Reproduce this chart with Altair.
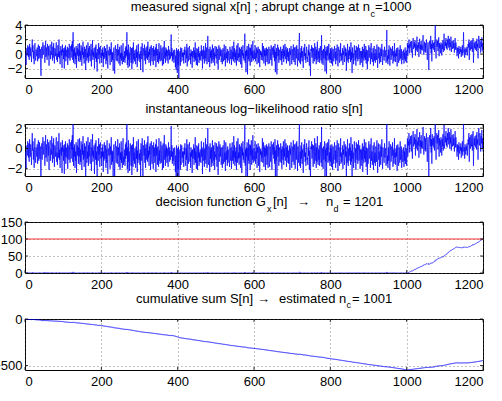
import altair as alt
import numpy as np
import pandas as pd

# Measured signal x[n] in tenths of a unit, n = 1..1200 (mean shift 0 -> 1 at n = 1000)
x_tenths = [
    2, -5, -15, 3, 8, -2, 12, 6, -4, 10,  -8, 14, 5, -3, 9, 1, -11, 7, 20, 3,
    12, -6, 4, -14, 8, 15, -2, -9, 6, 1,  -3, 9, -10, 5, 13, -7, 2, 11, -5, 7,
    -18, -30, 4, 10, -6, 8, 16, -1, 5, 12,  7, -12, 3, 18, -4, 9, 0, -8, 14, 6,
    -2, 11, -16, 5, 8, 13, -7, 4, -1, 17,  3, -9, 10, -5, 15, 2, -13, 8, 6, -3,
    9, 16, -8, 1, -11, 12, 5, -4, 20, -6,  4, -14, 7, 11, -2, 6, -19, 13, 2, 8,
    -7, 5, -20, 9, -3, 12, -10, 6, 1, -4,  10, -15, 8, 3, -6, 14, 0, -9, 7, 11,
    -5, 13, 4, 18, -8, 30, -12, 6, -3, 9,  -14, 2, -7, 11, -19, 5, 8, -2, 14, -10,
    6, -3, 15, -11, 4, -8, 12, 1, -16, 9,  -1, 17, -6, 3, -13, 10, -4, 7, -22, 5,
    12, -9, 2, -5, 16, -12, 8, -3, 11, -7,  -10, 4, 14, -17, 6, -2, 19, -8, 3, -4,
    8, -20, 1, 10, -6, 13, -11, 2, -24, 7,  5, -7, 15, -1, 9, -13, 4, 11, -5, 2,
    -12, 6, -3, 9, -18, 2, -7, 11, -5, -1,  8, -14, 4, -9, 13, -6, -20, 5, 1, -2,
    10, -4, -15, 7, -1, 16, -11, 3, -8, 2,  -23, 5, 9, -6, -27, 4, 12, -3, -9, 7,
    3, -10, 14, -2, 6, -13, -5, 10, -16, 1,  -6, 12, -9, 2, -14, 7, 15, -11, -3, -8,
    4, -12, 9, -5, 11, -2, 30, -15, 6, -19,  13, -8, 2, -17, 5, 10, -4, -12, 8, -21,
    -3, 9, -13, 16, -7, 1, -10, 5, -2, -14,  7, -5, 12, -18, 3, -9, 14, -1, -6, 0,
    -11, 4, -22, 10, 2, -7, 15, -3, -25, 8,  6, -2, 13, -9, 5, -14, 9, 1, -6, 11,
    -8, 17, -4, 3, -12, 7, -1, 10, -16, 2,  12, -6, -10, 8, 4, -15, 11, -3, 6, -9,
    -4, 9, -18, 14, -2, 5, -11, 7, 1, -13,  15, -7, 3, -10, 6, 12, -9, -1, 8, -16,
    -5, 10, -14, 2, 18, -6, 4, -12, 9, -3,  7, -9, 5, -4, -13, 11, -2, 6, -8, 3,
    -6, 4, 27, -3, 8, -10, 2, -7, 5, -12,  -9, 6, 3, -18, -2, -22, 8, -12, -26, 5,
    -15, 7, -33, -10, 2, 4, -16, 9, -11, 6,  8, -4, 2, -9, 2, -13, 6, -1, 10, -7,
    -12, 5, -6, 14, -17, 3, 9, -10, -2, 7,  11, -8, 1, -14, 6, -3, 3, -19, 4, -5,
    -2, 9, -11, 5, -6, 16, -9, 2, -15, 8,  3, -16, 7, -4, 10, -12, 1, -8, 4, -6,
    -9, 12, -3, 6, -20, 4, -7, 11, -1, -13,  5, -6, 15, -10, 2, 9, -14, 3, 25, -8,
    -11, 7, -2, -18, 10, -5, 4, -13, 6, -9,  13, -4, -12, 8, -7, 2, -16, 11, -3, -1,
    -6, 10, -13, 4, 7, -21, 1, 12, -8, 3,  9, -3, 6, -11, -5, 6, -14, 2, 8, -10,
    -4, 13, -8, 1, -17, 11, 5, -6, 3, -12,  7, -9, 2, 4, -5, -13, 10, -2, -7, 6,
    -15, 4, 11, -7, 3, -10, 17, -4, 8, -12,  2, -8, 6, -16, 12, -1, -9, 15, -5, 1,
    -11, 9, -4, 7, -14, 3, 10, -19, 5, -2,  12, -6, 1, -9, 8, 28, -12, 4, -25, 6,
    -3, 11, -28, 5, -7, 14, -10, 2, 9, -16,  8, -2, 13, -11, 4, -6, 18, -9, -1, 5,
    -7, 4, 12, -10, 2, -5, 9, -14, 6, 1,  10, -12, 3, 7, -18, 5, -1, 4, -8, 2,
    -4, 15, -9, 1, 11, -13, 6, -3, 8, -16,  5, -2, 9, -11, 7, -6, -14, 4, 10, -7,
    -13, 7, 2, -8, 12, -4, -16, 9, 3, -1,  11, -5, 6, -10, 14, -25, 3, -7, 8, -28,
    6, 13, -3, 9, -12, 2, 6, -8, -1, 10,  -9, 4, -15, 7, 1, -6, 12, -11, 5, -3,
    14, -7, -2, 10, -13, 6, -4, 8, -9, 3,  -10, 2, 8, -16, 5, -1, 11, -6, -14, 7,
    4, -8, 13, -3, -11, 9, 1, -15, 6, 10,  -6, 12, -2, -17, 7, 3, -9, 15, 29, -12,
    2, -14, 8, -5, 11, -10, 4, -1, -19, 6,  9, -3, 14, -8, 1, -12, 5, 10, -6, -4,
    -11, 6, -2, 13, -16, 3, -8, -30, 7, 4,  12, -5, 9, -1, -13, 8, 2, -10, 15, -7,
    -3, 10, -14, 6, -8, 17, -2, -11, 4, -6,  8, -12, 3, 11, -4, -9, 26, -13, 5, -1,
    -15, 7, -6, 2, 12, -24, 4, -8, 10, -27,  6, -2, 11, -9, 3, 14, -7, 1, -12, 8,
    -8, 5, -13, 9, -2, -16, 7, 1, -10, 4,  11, -6, 3, -14, 8, -1, -9, 13, -4, -17,
    2, 10, -7, -12, 6, -3, 15, -10, 1, -8,  -5, 8, -15, 4, -1, 12, -11, -6, 9, -3,
    7, -23, 2, -9, 14, -4, -12, 5, -7, 10,  -2, 6, -11, 16, -8, 3, -26, 9, -5, 1,
    -14, 7, 12, -4, -9, 5, -16, 11, -1, -6,  9, -10, 2, 13, -7, -3, 8, -15, 4, -2,
    -12, 4, -6, 10, -18, 1, 7, -9, 14, -5,  3, -8, 11, -13, 6, -2, -21, 5, -10, 8,
    12, -5, -1, 9, -14, 4, 15, -7, 2, -11,  -3, 8, -16, 6, 11, -9, 1, -12, 7, 3,
    -8, 13, -2, -19, 5, 10, -6, 2, -13, 9,  4, -11, 7, -3, 14, -8, -15, 6, 1, -5,
    -9, 10, -4, 2, 5, -12, 8, 33, -10, -2,  -14, 6, -7, 12, -1, -16, 3, 9, -8, -5,
    7, -2, 11, -13, -6, 4, -10, 15, -4, 1,  -11, 5, -3, 8, -17, 2, 9, -7, -12, 6,
    3, -9, 12, -6, -1, 7, -14, 4, -5, -8,  -4, 6, -13, 2, -7, 9, -10, -3, 5, -12,
    4, 15, -3, 12, 8, 20, 1, 14, 9, 17,  11, 2, 18, 6, -5, 13, 22, 7, 10, 16,
    9, 19, -2, 14, 5, 11, 24, 3, 12, 8,  16, -4, 10, 21, 7, 13, 0, 18, 6, 12,
    5, 14, 26, 8, -1, 11, 17, 3, 15, 2,  13, 20, 6, -8, 10, 16, 4, -22, 9, 18,
    12, 7, 25, 1, 14, -10, 19, 8, 11, 15,  6, 17, 3, 22, 40, 9, -6, 14, 20, 10,
    18, 4, 11, 23, -3, 15, 8, 13, 1, 16,  9, -2, 14, 7, 19, 3, 12, 28, 5, 10,
    17, 11, 22, 8, 15, 6, 20, 13, 25, 9,  14, 21, 5, 16, 10, 24, 3, 12, 18, 7,
    11, 19, 8, 15, 2, 13, 22, 6, 16, 10,  5, -3, 9, 2, 8, -6, 11, 4, 0, 7,
    3, 10, -4, 6, 1, 12, -2, 8, 30, 2,  6, -5, 9, 4, -1, 7, 3, 10, -2, 5,
    14, 9, 20, -8, 16, 11, 5, 18, 12, 7,  19, 3, 13, 22, -12, 10, 15, 8, 17, 6,
    12, 18, 4, 21, 9, 14, -6, 16, 25, 11,  8, 20, 13, 2, 17, 10, 23, 5, 15, 2,
]

# Gaussian mean-change model and CUSUM threshold
MU0, MU1, SIGMA = 0.0, 1.0, 1.0
THRESHOLD = 100

X_TICKS = [0, 200, 400, 600, 800, 1000, 1200]
Y1_TICKS = [-2, 0, 2, 4]
Y2_TICKS = [-2, 0, 2]
Y3_TICKS = [0, 50, 100, 150]
Y4_TICKS = [-500, 0]

# Derived series: log-likelihood ratio, cumulative sum, decision function
n = np.arange(1, len(x_tenths) + 1)
x = np.array(x_tenths) / 10.0
s = (MU1 - MU0) / SIGMA**2 * (x - (MU0 + MU1) / 2)
S = np.cumsum(s)
G = S - np.minimum(np.minimum.accumulate(S), 0.0)
df = pd.DataFrame({"n": n, "x": x, "s": s, "S": S, "G": G})

FONT = "Liberation Sans"
BLUE = "#0000ff"
W = 458
ONE = pd.DataFrame({"k": [0]})


def label(txt, px, py, size=13, align="left"):
    return alt.Chart(ONE).mark_text(
        text=txt, align=align, baseline="alphabetic", fontSize=size,
        font=FONT, color="black"
    ).encode(x=alt.value(px), y=alt.value(py))


def panel(field, ydom, yticks, h, pieces, width=0.7, extra=None):
    xsc = alt.Scale(domain=[0, 1200], nice=False, zero=False)
    ysc = alt.Scale(domain=ydom, nice=False, zero=False)
    xax = alt.Axis(values=X_TICKS, title=None, labelPadding=5, format="d")
    yax = alt.Axis(values=yticks, title=None, labelPadding=3)
    line = alt.Chart(df).mark_line(color=BLUE, strokeWidth=width, clip=True).encode(
        x=alt.X("n:Q", scale=xsc, axis=xax),
        y=alt.Y(f"{field}:Q", scale=ysc, axis=yax),
    )
    xt_df = pd.DataFrame({"t": X_TICKS})
    yt_df = pd.DataFrame({"v": yticks})
    tick = dict(color="black", strokeWidth=0.8)
    xb = alt.Chart(xt_df).mark_rule(**tick).encode(
        x=alt.X("t:Q", scale=xsc, axis=xax), y=alt.value(h), y2=alt.value(h - 3))
    xtp = alt.Chart(xt_df).mark_rule(**tick).encode(
        x=alt.X("t:Q", scale=xsc, axis=xax), y=alt.value(0), y2=alt.value(3))
    yl = alt.Chart(yt_df).mark_rule(**tick).encode(
        y=alt.Y("v:Q", scale=ysc, axis=yax), x=alt.value(0), x2=alt.value(3))
    yr = alt.Chart(yt_df).mark_rule(**tick).encode(
        y=alt.Y("v:Q", scale=ysc, axis=yax), x=alt.value(W - 3), x2=alt.value(W))
    layers = [line]
    if extra is not None:
        layers.append(extra(ysc, yax))
    layers += [xb, xtp, yl, yr] + pieces
    return alt.layer(*layers).properties(width=W, height=h)


def threshold_rule(ysc, yax):
    return alt.Chart(pd.DataFrame({"h": [THRESHOLD]})).mark_rule(
        color="#ff0000", strokeWidth=0.8
    ).encode(y=alt.Y("h:Q", scale=ysc, axis=yax))


p1 = panel("x", [-3.3, 4.0], Y1_TICKS, 53, [
    label("measured signal x[n] ; abrupt change at n", 345, -14, align="right"),
    label("c", 345.5, -8, size=9),
    label("=1000", 350, -14),
])
p2 = panel("s", [-2.7, 2.4], Y2_TICKS, 52, [
    label("instantaneous log\u2212likelihood ratio s[n]", 229, -11, align="center"),
])
p3 = panel("G", [0, 150], Y3_TICKS, 51, [
    label("decision function G", 241, -16, align="right"),
    label("x", 242, -10, size=9),
    label("[n]", 248, -16),
    label("\u2192", 272, -16),
    label("n", 301, -16),
    label("d", 308.5, -10, size=9),
    label("= 1201", 318, -16),
], extra=threshold_rule)
p4 = panel("S", [-548, 0], Y4_TICKS, 51, [
    label("cumulative sum S[n]", 111, -16),
    label("\u2192", 232, -16),
    label("estimated n", 254, -16),
    label("c", 321.5, -11, size=9),
    label(" = 1001", 327, -16),
], width=0.9)

chart = alt.vconcat(p1, p2, p3, p4, spacing=46, bounds="flush").properties(
    padding={"left": -8, "top": 0, "right": 0, "bottom": 0},
    background="white",
).configure_view(
    stroke="black", strokeWidth=1
).configure_axis(
    domain=False, ticks=False, tickSize=0, grid=True,
    gridColor="#555555", gridDash=[1, 3], gridWidth=0.7,
    labelFont=FONT, labelFontSize=13, labelColor="black",
)

chart.save("out.html", embed_options={"renderer": "svg", "actions": False})
